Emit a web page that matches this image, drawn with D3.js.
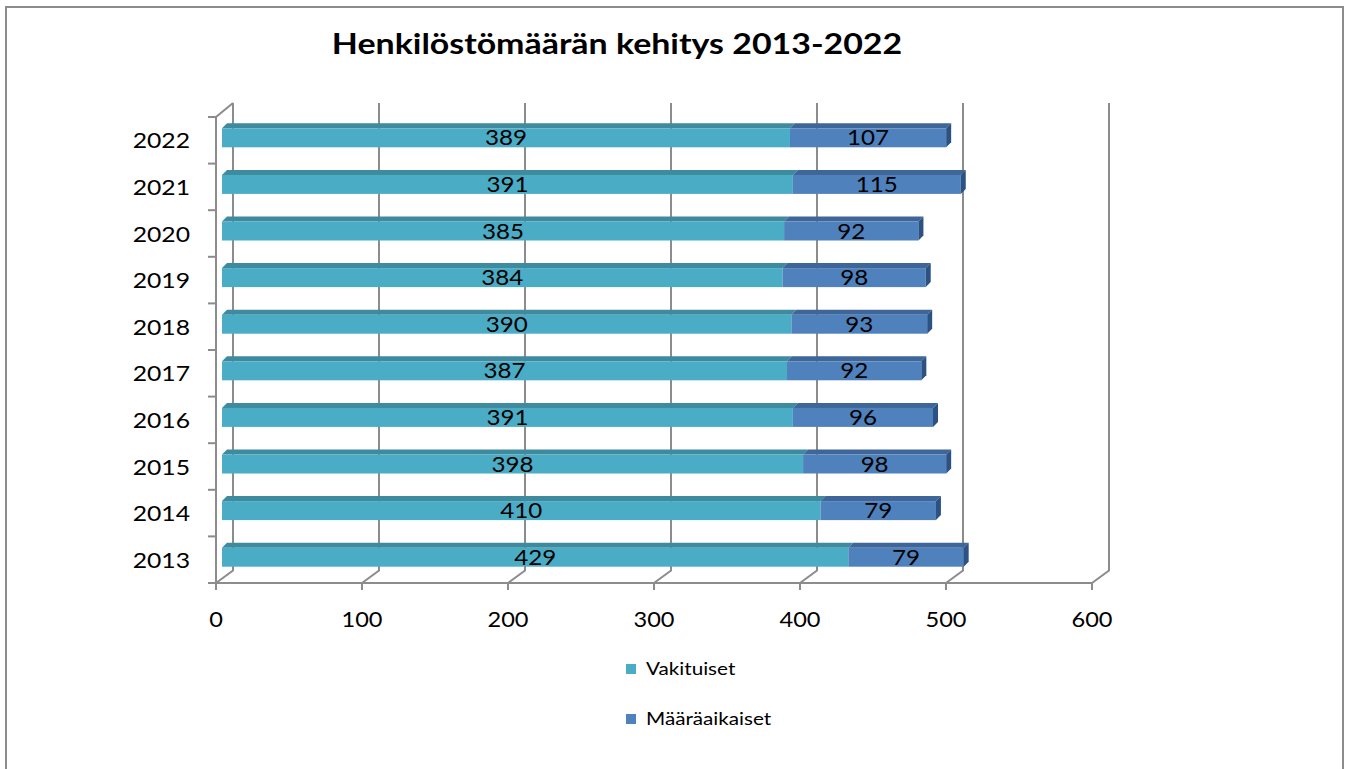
<!DOCTYPE html>
<html>
<head>
<meta charset="utf-8">
<script src="https://cdn.jsdelivr.net/npm/d3@7"></script>
<style>
  body { margin: 0; background: #fff; }
  text { font-family: Lato, "Open Sans", sans-serif; fill: #000; }
</style>
</head>
<body>
<script>
// data
const years = ["2013", "2014", "2015", "2016", "2017", "2018", "2019", "2020", "2021", "2022"]
const vakituiset = [429, 410, 398, 391, 387, 390, 384, 385, 391, 389]
const maaraaikaiset = [79, 79, 98, 96, 92, 93, 98, 92, 115, 107]
const seriesNames = ["Vakituiset", "Määräaikaiset"]
const xTicks = [0, 100, 200, 300, 400, 500, 600]

const W = 1353, H = 769
const stretch = 1.15   // text in the picture is a bit wide

const svg = d3.select("body").append("svg")
  .attr("width", W).attr("height", H)

// outer frame
svg.append("rect")
  .attr("x", 6).attr("y", 7)
  .attr("width", 1337).attr("height", 820)
  .attr("fill", "none")
  .attr("stroke", "#8c8c8c")
  .attr("stroke-width", 2)

// title
svg.append("text")
  .attr("transform", `translate(617,54) scale(${stretch},1)`)
  .attr("text-anchor", "middle")
  .style("font-weight", "bold")
  .style("font-size", "29.5px")
  .text("Henkilöstömäärän kehitys 2013-2022")

// scales
const x = d3.scaleLinear().domain([0, 600]).range([216, 1092])
const y = d3.scaleBand().domain(years).range([583, 117])

// 3d depth offset (full depth of the plot box)
const dX = 17, dY = -12.5
const floorY = 583, topY = 103

const grid = svg.append("g")
  .attr("stroke", "#8c8c8c")
  .attr("stroke-width", 2)
  .attr("fill", "none")

// back wall gridlines + floor diagonals
xTicks.forEach(t => {
  grid.append("path")
    .attr("d", `M${x(t)},${floorY} L${x(t) + dX},${floorY + dY} L${x(t) + dX},${topY}`)
  grid.append("line")
    .attr("x1", x(t)).attr("x2", x(t))
    .attr("y1", floorY).attr("y2", floorY + 7)
})

// front floor line
grid.append("line")
  .attr("x1", x(0)).attr("x2", x(600))
  .attr("y1", floorY).attr("y2", floorY)

// left axis with top diagonal
grid.append("path")
  .attr("d", `M${x(0)},${floorY} L${x(0)},${y.range()[1]} L${x(0) + dX},${topY}`)

// category ticks
const bounds = years.map(d => y(d)).concat([y.range()[0]])
bounds.forEach(b => {
  grid.append("line")
    .attr("x1", x(0) - 8).attr("x2", x(0))
    .attr("y1", b).attr("y2", b)
})

// x tick labels
svg.append("g").selectAll("text")
  .data(xTicks)
  .join("text")
  .attr("transform", d => `translate(${x(d)},627) scale(${stretch},1)`)
  .attr("text-anchor", "middle")
  .style("font-size", "20.5px")
  .text(d => d)

// year labels
svg.append("g").selectAll("text")
  .data(years)
  .join("text")
  .attr("transform", d => `translate(190,${y(d) + y.bandwidth() / 2 + 8}) scale(${stretch},1)`)
  .attr("text-anchor", "end")
  .style("font-size", "21.5px")
  .text(d => d)

// bars
const colors = [
  { front: "#4bacc6", top: "#3e8b9f", side: "#357a8c" },
  { front: "#4f81bd", top: "#3e6698", side: "#2c5283" }
]
const fx = 6, fy = -4.5      // front face offset (bar sits inside depth)
const bx = 11, by = -9.5     // back face offset
const barH = 19

const stacked = years.map((yr, i) => {
  const v = [vakituiset[i], maaraaikaiset[i]]
  return { year: yr, parts: [{ s: 0, a: 0, b: v[0], v: v[0] }, { s: 1, a: v[0], b: v[0] + v[1], v: v[1] }] }
})

const bars = svg.append("g")
stacked.forEach(row => {
  const cy = y(row.year) + y.bandwidth() / 2 + 1
  const top = cy + fy - barH / 2 + 1
  const g = bars.append("g")
  row.parts.forEach(p => {
    const x0 = x(p.a) + fx, x1 = x(p.b) + fx
    // top face
    g.append("path")
      .attr("d", `M${x0},${top} L${x1},${top} L${x1 + bx - fx},${top + by - fy} L${x0 + bx - fx},${top + by - fy}Z`)
      .attr("fill", colors[p.s].top)
    // front face
    g.append("rect")
      .attr("x", x0).attr("y", top)
      .attr("width", x1 - x0).attr("height", barH)
      .attr("fill", colors[p.s].front)
    if (p.s === 1) {
      // right side face
      g.append("path")
        .attr("d", `M${x1},${top} L${x1 + bx - fx},${top + by - fy} L${x1 + bx - fx},${top + by - fy + barH} L${x1},${top + barH}Z`)
        .attr("fill", colors[p.s].side)
    }
    // value label
    g.append("text")
      .attr("transform", `translate(${(x0 + x1) / 2},${top + barH / 2 + 7.5}) scale(${stretch},1)`)
      .attr("text-anchor", "middle")
      .style("font-size", "21px")
      .text(p.v)
  })
})

// legend
const legend = svg.append("g")
seriesNames.forEach((name, i) => {
  const ly = 669 + i * 50
  legend.append("rect")
    .attr("x", 626).attr("y", ly - 5)
    .attr("width", 10).attr("height", 10)
    .attr("fill", colors[i].front)
  legend.append("text")
    .attr("transform", `translate(646,${ly + 6}) scale(${stretch},1)`)
    .style("font-size", "18px")
    .text(name)
})
</script>
</body>
</html>
